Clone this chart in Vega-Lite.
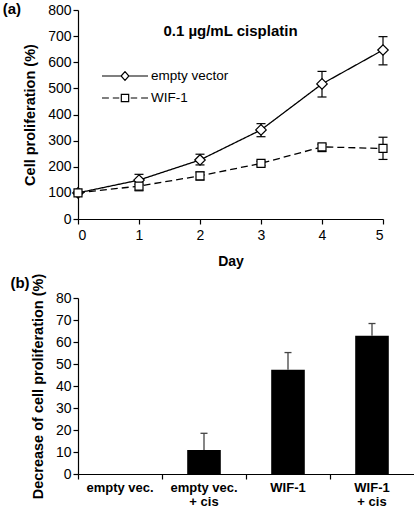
{
  "$schema": "https://vega.github.io/schema/vega-lite/v6.json",
  "background": "white",
  "padding": {"left": 2, "top": 2, "right": 0, "bottom": 0},
  "config": {
    "font": "Liberation Sans",
    "view": {"stroke": null},
    "axis": {
      "grid": false, "domainColor": "black", "tickColor": "black",
      "labelColor": "black", "titleColor": "black",
      "labelFont": "Liberation Sans", "labelFontSize": 14, "labelOverlap": false,
      "titleFont": "Liberation Sans", "titleFontSize": 14.5, "titleFontWeight": "bold",
      "tickSize": 5, "domainWidth": 1.2, "tickWidth": 1.2
    },
    "title": {"font": "Liberation Sans", "fontWeight": "bold", "color": "black"},
    "concat": {"spacing": 5}
  },
  "datasets": {
    "growth": [
      {"day": 0, "series": "empty vector", "mean": 100, "lo": null, "hi": null},
      {"day": 1, "series": "empty vector", "mean": 149, "lo": 133, "hi": 171},
      {"day": 2, "series": "empty vector", "mean": 226, "lo": 207, "hi": 248},
      {"day": 3, "series": "empty vector", "mean": 341, "lo": 315, "hi": 365},
      {"day": 4, "series": "empty vector", "mean": 517, "lo": 467, "hi": 565},
      {"day": 5, "series": "empty vector", "mean": 647, "lo": 590, "hi": 698},
      {"day": 0, "series": "WIF-1", "mean": 100, "lo": null, "hi": null},
      {"day": 1, "series": "WIF-1", "mean": 126, "lo": 108, "hi": 146},
      {"day": 2, "series": "WIF-1", "mean": 165, "lo": 149, "hi": 180},
      {"day": 3, "series": "WIF-1", "mean": 213, "lo": 204, "hi": 221},
      {"day": 4, "series": "WIF-1", "mean": 276, "lo": 258, "hi": 286},
      {"day": 5, "series": "WIF-1", "mean": 270, "lo": 228, "hi": 313}
    ],
    "decrease": [
      {"group": "empty vec.", "value": 0, "hi": null},
      {"group": "empty vec. + cis", "value": 10.9, "hi": 18.5},
      {"group": "WIF-1", "value": 47.4, "hi": 55.2},
      {"group": "WIF-1 + cis", "value": 62.8, "hi": 68.4}
    ]
  },
  "vconcat": [
    {
      "title": {"text": "(a)", "anchor": "start", "fontSize": 15, "dx": -20, "dy": 18},
      "vconcat": [
        {
          "width": 305,
          "height": 209,
          "title": {"text": "0.1 µg/mL cisplatin", "anchor": "middle", "fontSize": 15, "dy": 40},
          "data": {"name": "growth"},
          "encoding": {
            "x": {"field": "day", "type": "quantitative",
                  "scale": {"domain": [0, 5], "nice": false},
                  "axis": {"values": [0, 1, 2, 3, 4, 5], "title": "Day", "titleFontSize": 14, "labelPadding": 4, "titlePadding": 12}}
          },
          "layer": [
            {
              "mark": {"type": "line", "color": "black", "strokeWidth": 1.3},
              "encoding": {
                "y": {"field": "mean", "type": "quantitative",
                      "scale": {"domain": [0, 800], "nice": false},
                      "axis": {"values": [0, 100, 200, 300, 400, 500, 600, 700, 800], "title": "Cell proliferation (%)", "titlePadding": 10}},
                "strokeDash": {"field": "series", "type": "nominal",
                               "scale": {"domain": ["empty vector", "WIF-1"], "range": [[1, 0], [7, 4]]},
                               "legend": null}
              }
            },
            {
              "mark": {"type": "rule", "color": "black", "strokeWidth": 1.2},
              "encoding": {
                "y": {"field": "lo", "type": "quantitative",
                      "axis": {"values": [0, 100, 200, 300, 400, 500, 600, 700, 800], "title": "Cell proliferation (%)", "titlePadding": 10}},
                "y2": {"field": "hi"}
              }
            },
            {
              "mark": {"type": "point", "shape": "stroke", "size": 81, "color": "black", "strokeWidth": 1.2, "opacity": 1},
              "encoding": {"y": {"field": "lo", "type": "quantitative",
                      "axis": {"values": [0, 100, 200, 300, 400, 500, 600, 700, 800], "title": "Cell proliferation (%)", "titlePadding": 10}}}
            },
            {
              "mark": {"type": "point", "shape": "stroke", "size": 81, "color": "black", "strokeWidth": 1.2, "opacity": 1},
              "encoding": {"y": {"field": "hi", "type": "quantitative",
                      "axis": {"values": [0, 100, 200, 300, 400, 500, 600, 700, 800], "title": "Cell proliferation (%)", "titlePadding": 10}}}
            },
            {
              "mark": {"type": "point", "filled": true, "fill": "white", "stroke": "black", "strokeWidth": 1.2, "opacity": 1},
              "encoding": {
                "y": {"field": "mean", "type": "quantitative",
                      "axis": {"values": [0, 100, 200, 300, 400, 500, 600, 700, 800], "title": "Cell proliferation (%)", "titlePadding": 10}},
                "shape": {"field": "series", "type": "nominal",
                          "scale": {"domain": ["empty vector", "WIF-1"], "range": ["diamond", "square"]},
                          "legend": null},
                "size": {"field": "series", "type": "nominal",
                         "scale": {"domain": ["empty vector", "WIF-1"], "range": [110, 64]},
                         "legend": null}
              }
            },
            {
              "transform": [{"filter": "false"}],
              "mark": {"type": "point", "filled": false, "color": "black", "strokeWidth": 1.2, "opacity": 1, "size": 2116},
              "encoding": {
                "y": {"field": "mean", "type": "quantitative",
                      "axis": {"values": [0, 100, 200, 300, 400, 500, 600, 700, 800], "title": "Cell proliferation (%)", "titlePadding": 10}},
                "shape": {"field": "series", "type": "nominal",
                          "scale": {"domain": ["empty vector", "WIF-1"],
                                    "range": ["M-1,0H-0.17M0.17,0H1M-0.17,0L0,-0.19L0.17,0L0,0.19Z",
                                              "M-1,0H-0.7M-0.53,0H-0.25M0.25,0H0.53M0.7,0H1M-0.16,-0.16H0.16V0.16H-0.16Z"]},
                          "legend": {"title": null, "orient": "none", "legendX": 23, "legendY": 59,
                                     "symbolSize": 2116, "symbolStrokeColor": "black",
                                     "symbolStrokeWidth": 1.2, "symbolOpacity": 1, "clipHeight": 14,
                                     "labelFont": "Liberation Sans", "labelFontSize": 13.5, "labelColor": "black",
                                     "labelOffset": 2, "rowPadding": 8}}
              }
            }
          ],
          "resolve": {"scale": {"shape": "independent", "size": "independent"}}
        }
      ]
    },
    {
      "title": {"text": "(b)", "anchor": "start", "fontSize": 15, "dx": -20, "dy": 22},
      "vconcat": [
        {
          "width": 336,
          "height": 176,
          "data": {"name": "decrease"},
          "encoding": {
            "x": {"field": "group", "type": "nominal", "sort": null,
                  "scale": {"paddingInner": 0, "paddingOuter": 0},
                  "axis": {"title": null, "labelAngle": 0, "bandPosition": 0, "labelFontWeight": "bold",
                           "labelFontSize": 13, "labelPadding": 2, "labelLineHeight": 14,
                           "labelExpr": "indexof(datum.label, ' +') > 0 ? [substring(datum.label, 0, indexof(datum.label, ' +')), '+ cis'] : datum.label"}}
          },
          "layer": [
            {
              "mark": {"type": "bar", "color": "black", "width": {"band": 0.4}},
              "encoding": {
                "y": {"field": "value", "type": "quantitative",
                      "scale": {"domain": [0, 80], "nice": false},
                      "axis": {"values": [0, 10, 20, 30, 40, 50, 60, 70, 80], "title": "Decrease of cell proliferation (%)", "titlePadding": 10}}
              }
            },
            {
              "mark": {"type": "rule", "color": "#444444", "strokeWidth": 1.3},
              "encoding": {
                "y": {"field": "value", "type": "quantitative",
                      "axis": {"values": [0, 10, 20, 30, 40, 50, 60, 70, 80], "title": "Decrease of cell proliferation (%)", "titlePadding": 10}},
                "y2": {"field": "hi"}
              }
            },
            {
              "mark": {"type": "point", "shape": "stroke", "size": 49, "color": "#444444", "strokeWidth": 1.3, "opacity": 1},
              "encoding": {"y": {"field": "hi", "type": "quantitative",
                      "axis": {"values": [0, 10, 20, 30, 40, 50, 60, 70, 80], "title": "Decrease of cell proliferation (%)", "titlePadding": 10}}}
            }
          ]
        }
      ]
    }
  ]
}
